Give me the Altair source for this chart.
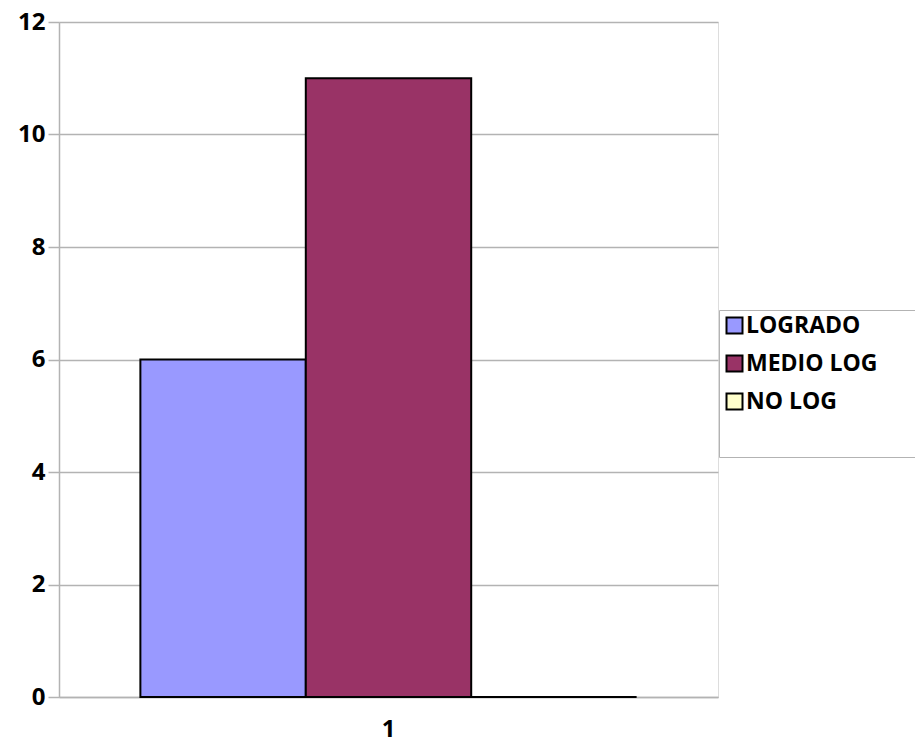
import altair as alt
import pandas as pd

categories = ["1", "1", "1"]
series = ["LOGRADO", "MEDIO LOG", "NO LOG"]
values = [6, 11, 0]
colors = ["#9999ff", "#993366", "#ffffcc"]

df = pd.DataFrame({"cat": categories, "serie": series, "valor": values})

FONT = "Open Sans"

chart = alt.Chart(df).mark_bar(stroke="black", strokeWidth=2).encode(
    x=alt.X("cat:N", title=None,
            scale=alt.Scale(paddingInner=0, paddingOuter=0.164),
            axis=alt.Axis(labelAngle=0, ticks=False, labelPadding=20,
                          labelFontSize=24, labelFont=FONT, labelFontWeight="bold",
                          labelColor="black", domainColor="#b3b3b3", domainWidth=1.5)),
    xOffset=alt.XOffset("serie:N", sort=series,
                        scale=alt.Scale(paddingInner=0, paddingOuter=0)),
    y=alt.Y("valor:Q", title=None,
            scale=alt.Scale(domain=[0, 12], nice=False),
            axis=alt.Axis(values=[0, 2, 4, 6, 8, 10, 12], tickSize=11, tickColor="#b3b3b3",
                          tickWidth=1.5, labelPadding=3, gridColor="#b3b3b3", gridWidth=1.5,
                          domainColor="#b3b3b3", domainWidth=1.5,
                          labelFontSize=24, labelFont=FONT, labelFontWeight="bold",
                          labelColor="black")),
    color=alt.Color("serie:N", sort=series,
                    scale=alt.Scale(domain=series, range=colors),
                    legend=alt.Legend(
                        orient="none", legendX=660, legendY=288,
                        title="_" * 40, titleOrient="bottom", titleFontSize=22,
                        titleColor="white", titleOpacity=0, titleLimit=2000,
                        titlePadding=18,
                        symbolType="square", symbolSize=256, symbolStrokeColor="black",
                        symbolStrokeWidth=2, symbolOpacity=1,
                        labelFont=FONT, labelFontWeight="bold", labelFontSize=23,
                        labelColor="black", labelOffset=0, rowPadding=13,
                        labelLimit=600,
                        strokeColor="#b3b3b3", fillColor="white",
                        padding=4)),
).properties(
    width=659, height=675,
    padding={"left": 51, "top": 14, "right": 197, "bottom": 52},
    autosize=alt.AutoSizeParams(type="none"),
).configure_view(stroke=None).configure(background="white")

chart.save("out.html", embed_options={"renderer": "svg", "actions": False})
